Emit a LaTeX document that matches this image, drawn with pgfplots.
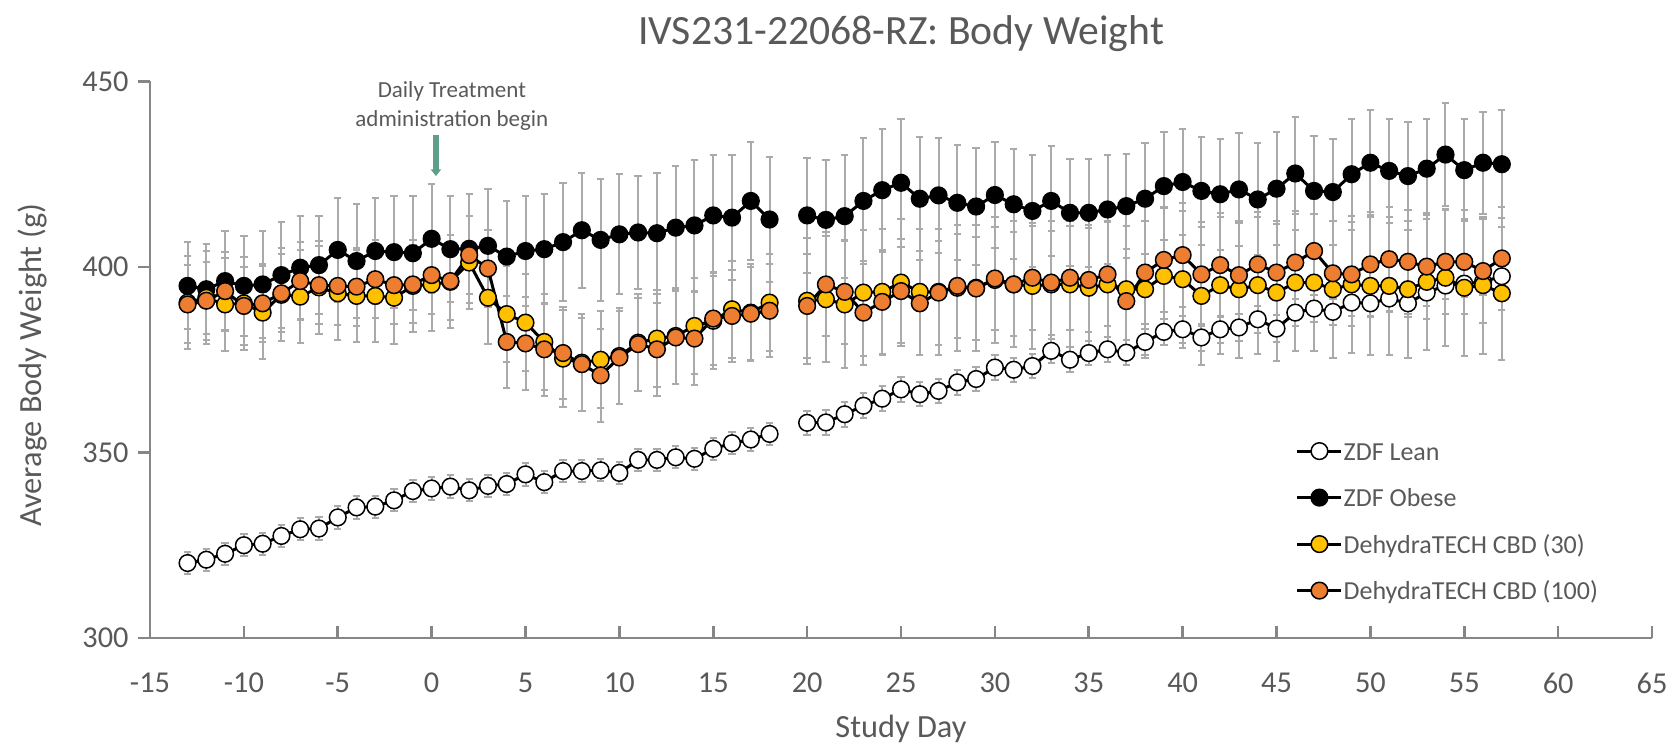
\documentclass[border=0pt]{standalone}
\usepackage{fontspec}
\setmainfont{Carlito}
\usepackage{pgfplots}
\pgfplotsset{compat=1.18}
\usepackage{pgfplotstable}
\usetikzlibrary{arrows.meta}
\definecolor{ebc}{RGB}{170,170,170}
\definecolor{txt}{RGB}{89,89,89}
\definecolor{axc}{RGB}{134,134,134}
\definecolor{ygold}{RGB}{255,192,0}
\definecolor{orng}{RGB}{237,125,49}
\definecolor{arrc}{RGB}{96,158,140}

\pgfplotstableread{
d m e
-13 320.2 3.0
-12 321.1 3.0
-11 322.7 3.0
-10 325.0 3.0
-9 325.4 3.0
-8 327.5 3.0
-7 329.3 3.0
-6 329.5 3.0
-5 332.5 3.0
-4 335.2 3.0
-3 335.4 3.0
-2 337.1 3.0
-1 339.6 3.0
0 340.3 3.0
1 340.8 3.0
2 339.8 3.0
3 341.0 3.0
4 341.5 3.0
5 344.1 3.0
6 342.0 3.0
7 345.0 3.0
8 345.0 3.0
9 345.2 3.0
10 344.5 3.0
11 348.0 3.0
12 348.0 3.0
13 348.7 3.0
14 348.3 3.0
15 351.0 3.0
16 352.5 3.0
17 353.5 3.0
18 355.0 3.0
19 nan 0
20 358.0 3.3
21 358.1 3.3
22 360.3 3.3
23 362.6 3.3
24 364.5 3.3
25 367.0 3.3
26 365.7 3.3
27 366.6 3.3
28 368.9 3.3
29 369.8 3.3
30 372.9 3.3
31 372.3 3.3
32 373.3 3.3
33 377.4 3.3
34 375.0 3.3
35 376.8 3.3
36 377.8 3.3
37 376.9 3.3
38 379.8 3.6
39 382.5 3.6
40 383.2 3.6
41 381.0 3.6
42 383.2 3.6
43 383.7 3.6
44 385.9 3.6
45 383.4 3.6
46 387.7 3.6
47 388.8 3.6
48 387.9 3.6
49 390.4 3.6
50 390.2 3.6
51 391.5 3.6
52 390.2 3.6
53 393.1 3.6
54 395.0 3.6
55 395.5 3.6
56 396.0 3.6
57 397.5 3.6
}\lean

\pgfplotstableread{
d m e
-13 394.9 11.7
-12 394.0 12.1
-11 396.2 13.5
-10 394.9 13.4
-9 395.3 14.4
-8 397.8 14.3
-7 399.8 13.9
-6 400.5 13.2
-5 404.6 14.1
-4 401.6 15.3
-3 404.3 14.4
-2 404.0 15.1
-1 403.7 15.4
0 407.6 14.7
1 404.8 14.3
2 404.9 14.7
3 405.7 15.2
4 402.8 15.0
5 404.3 14.8
6 404.8 14.8
7 406.7 16.0
8 409.9 15.5
9 407.3 16.5
10 408.8 16.2
11 409.3 15.2
12 409.1 16.3
13 410.6 16.6
14 411.2 17.6
15 413.9 16.2
16 413.3 16.8
17 417.8 16.0
18 412.8 16.9
19 nan 0
20 413.9 15.5
21 412.7 16.2
22 413.7 16.6
23 417.8 16.9
24 420.7 16.6
25 422.7 17.3
26 418.4 16.6
27 419.3 15.5
28 417.3 15.5
29 416.3 15.7
30 419.4 14.4
31 416.9 14.8
32 415.1 15.1
33 417.8 14.9
34 414.6 14.4
35 414.6 14.6
36 415.5 14.6
37 416.4 14.0
38 418.4 14.9
39 421.8 14.6
40 422.9 14.4
41 420.5 14.6
42 419.6 15.0
43 420.9 15.3
44 418.2 15.1
45 421.1 15.3
46 425.2 15.3
47 420.5 14.8
48 420.2 14.4
49 425.0 15.0
50 428.1 14.1
51 425.9 14.1
52 424.5 14.6
53 426.5 13.5
54 430.3 13.9
55 426.1 13.8
56 428.1 13.7
57 427.7 14.6
}\obese

\pgfplotstableread{
d m e
-13 390.4 12.5
-12 391.7 12.5
-11 389.9 12.5
-10 390.2 12.5
-9 387.7 12.5
-8 392.5 12.5
-7 392.0 12.5
-6 394.5 12.5
-5 392.9 12.5
-4 392.2 12.5
-3 392.2 12.5
-2 391.7 12.5
-1 394.9 12.5
0 395.3 12.5
1 396.0 12.5
2 401.2 12.5
3 391.7 12.5
4 387.3 13.0
5 385.0 13.0
6 379.8 13.0
7 375.3 13.0
8 374.2 13.0
9 375.0 13.0
10 376.0 13.0
11 379.6 13.0
12 380.7 13.0
13 381.4 13.0
14 384.1 13.0
15 385.5 13.0
16 388.6 13.0
17 387.7 13.0
18 390.4 13.0
19 nan 0
20 390.9 17.0
21 391.3 17.0
22 389.9 17.0
23 393.1 17.0
24 393.3 17.0
25 395.8 17.0
26 393.3 17.0
27 393.3 17.0
28 394.4 17.0
29 394.4 17.0
30 396.5 17.0
31 395.3 17.0
32 394.9 17.0
33 395.3 17.0
34 395.3 17.0
35 394.4 17.0
36 395.3 17.0
37 394.0 17.0
38 394.0 18.5
39 397.6 18.5
40 396.7 18.5
41 392.2 18.5
42 395.1 18.5
43 394.0 18.5
44 395.1 18.5
45 393.1 18.5
46 395.8 18.5
47 395.8 18.5
48 394.0 18.5
49 395.3 18.5
50 394.9 18.5
51 394.9 18.5
52 394.0 18.5
53 396.0 18.5
54 397.1 18.5
55 394.4 18.5
56 395.1 18.5
57 392.9 18.0
}\cbdthirty

\pgfplotstableread{
d m e
-13 389.9 10.5
-12 390.9 10.5
-11 393.5 10.5
-10 389.5 10.5
-9 390.2 10.5
-8 392.9 10.5
-7 396.2 10.5
-6 395.1 10.5
-5 394.9 10.5
-4 394.7 10.5
-3 396.7 10.5
-2 395.1 10.5
-1 395.3 10.5
0 397.8 10.5
1 396.2 10.5
2 403.2 10.5
3 399.6 10.5
4 379.8 12.5
5 379.4 12.5
6 377.8 12.5
7 376.8 12.5
8 373.8 12.5
9 370.8 12.5
10 375.6 12.5
11 379.2 12.5
12 377.8 12.5
13 381.0 12.5
14 380.7 12.5
15 386.1 12.5
16 386.8 12.5
17 387.4 12.5
18 388.2 12.5
19 nan 0
20 389.5 14.0
21 395.3 14.0
22 393.3 14.0
23 387.7 14.0
24 390.6 14.0
25 393.5 14.0
26 390.2 14.0
27 393.1 14.0
28 394.9 14.0
29 394.2 14.0
30 396.9 14.0
31 395.3 14.0
32 397.1 14.0
33 395.8 14.0
34 397.1 14.0
35 396.5 14.0
36 398.0 14.0
37 390.8 14.0
38 398.5 14.0
39 401.9 14.0
40 403.2 14.0
41 398.0 14.0
42 400.5 14.0
43 397.8 14.0
44 400.7 14.0
45 398.5 14.0
46 401.2 14.0
47 404.3 14.0
48 398.3 14.0
49 398.0 14.0
50 400.7 14.0
51 402.1 14.0
52 401.4 14.0
53 400.1 14.0
54 401.4 14.0
55 401.4 14.0
56 398.9 14.0
57 402.3 14.0
}\cbdhundred

\pgfplotsset{
  ebars/.style={forget plot, only marks, mark=none, draw=ebc,
    error bars/.cd, y dir=both, y explicit,
    error bar style={draw=ebc, line width=0.6pt, solid},
    error mark options={draw=ebc, rotate=90, mark size=1.1pt, line width=0.6pt}},
  ser/.style={draw=black, line width=0.9pt, mark=*, mark size=2.5pt,
    mark options={solid, fill=#1, draw=black, line width=0.45pt}},
}

\begin{document}
\begin{tikzpicture}
\begin{axis}[
  scale only axis, width=450.6pt, height=166.95pt,
  xmin=-15, xmax=65, ymin=300, ymax=450,
  xtick={-15,-10,...,65}, ytick={300,350,400,450},
  axis x line*=bottom, axis y line*=left,
  axis line style={axc, line width=0.8pt, -},
  tick style={axc, line width=0.8pt},
  major tick length=3.5pt,
  xtick align=inside, ytick align=outside,
  ticklabel style={font=\fontsize{9.1}{11}\selectfont, text=txt},
  /pgf/number format/assume math mode=true,
  xticklabel style={yshift=-7pt},
  yticklabel style={xshift=0.6pt},
  title={IVS231-22068-RZ: Body Weight},
  title style={font=\fontsize{12.5}{15}\selectfont, text=txt, at={(0.5,1)}, anchor=center, yshift=8.3pt},
  xlabel={Study Day}, ylabel={Average Body Weight (g)},
  label style={font=\fontsize{9.7}{12}\selectfont, text=txt},
  xlabel style={at={(axis description cs:0.5,-0.164)}, anchor=center},
  ylabel style={at={(axis description cs:-0.0785,0.49)}, anchor=center},
  unbounded coords=jump,
  clip=false,
  legend cell align=left,
  legend image code/.code={\draw[mark repeat=2, mark phase=2] plot coordinates {(0pt,0pt) (6.6pt,0pt) (13.2pt,0pt)};},
  legend style={at={(axis cs:46.0,355.0)}, anchor=north west, draw=none, fill=none,
    font=\fontsize{7.8}{9}\selectfont, text=txt, inner sep=0pt, row sep=4.05pt,
    nodes={inner sep=0.2pt, text height=0.75em, text depth=0.2em}},
]
\addplot[ebars] table[x=d, y=m, y error=e] {\lean};
\addplot[ebars] table[x=d, y=m, y error=e] {\obese};
\addplot[ebars] table[x=d, y=m, y error=e] {\cbdthirty};
\addplot[ebars] table[x=d, y=m, y error=e] {\cbdhundred};

\addplot[ser=white] table[x=d, y=m] {\lean};
\addlegendentry{ZDF Lean}
\addplot[ser=black] table[x=d, y=m] {\obese};
\addlegendentry{ZDF Obese}
\addplot[ser=ygold] table[x=d, y=m] {\cbdthirty};
\addlegendentry{DehydraTECH CBD (30)}
\addplot[ser=orng] table[x=d, y=m] {\cbdhundred};
\addlegendentry{DehydraTECH CBD (100)}

\node[font=\fontsize{6.9}{8}\selectfont, text=txt, inner sep=0pt] at (axis cs:1.08,447.2) {Daily Treatment};
\node[font=\fontsize{6.9}{8}\selectfont, text=txt, inner sep=0pt] at (axis cs:1.08,439.6) {administration begin};
\draw[arrc, line width=1.7pt, -{Triangle[width=3pt,length=2pt]}] (axis cs:0.23,435.6) -- (axis cs:0.23,424.5);
\end{axis}
\pgfresetboundingbox
\path[use as bounding box] ([shift={(-45pt,-31.8pt)}]current axis.south west) rectangle ([shift={(6.9pt,24.45pt)}]current axis.north east);
\end{tikzpicture}
\end{document}
